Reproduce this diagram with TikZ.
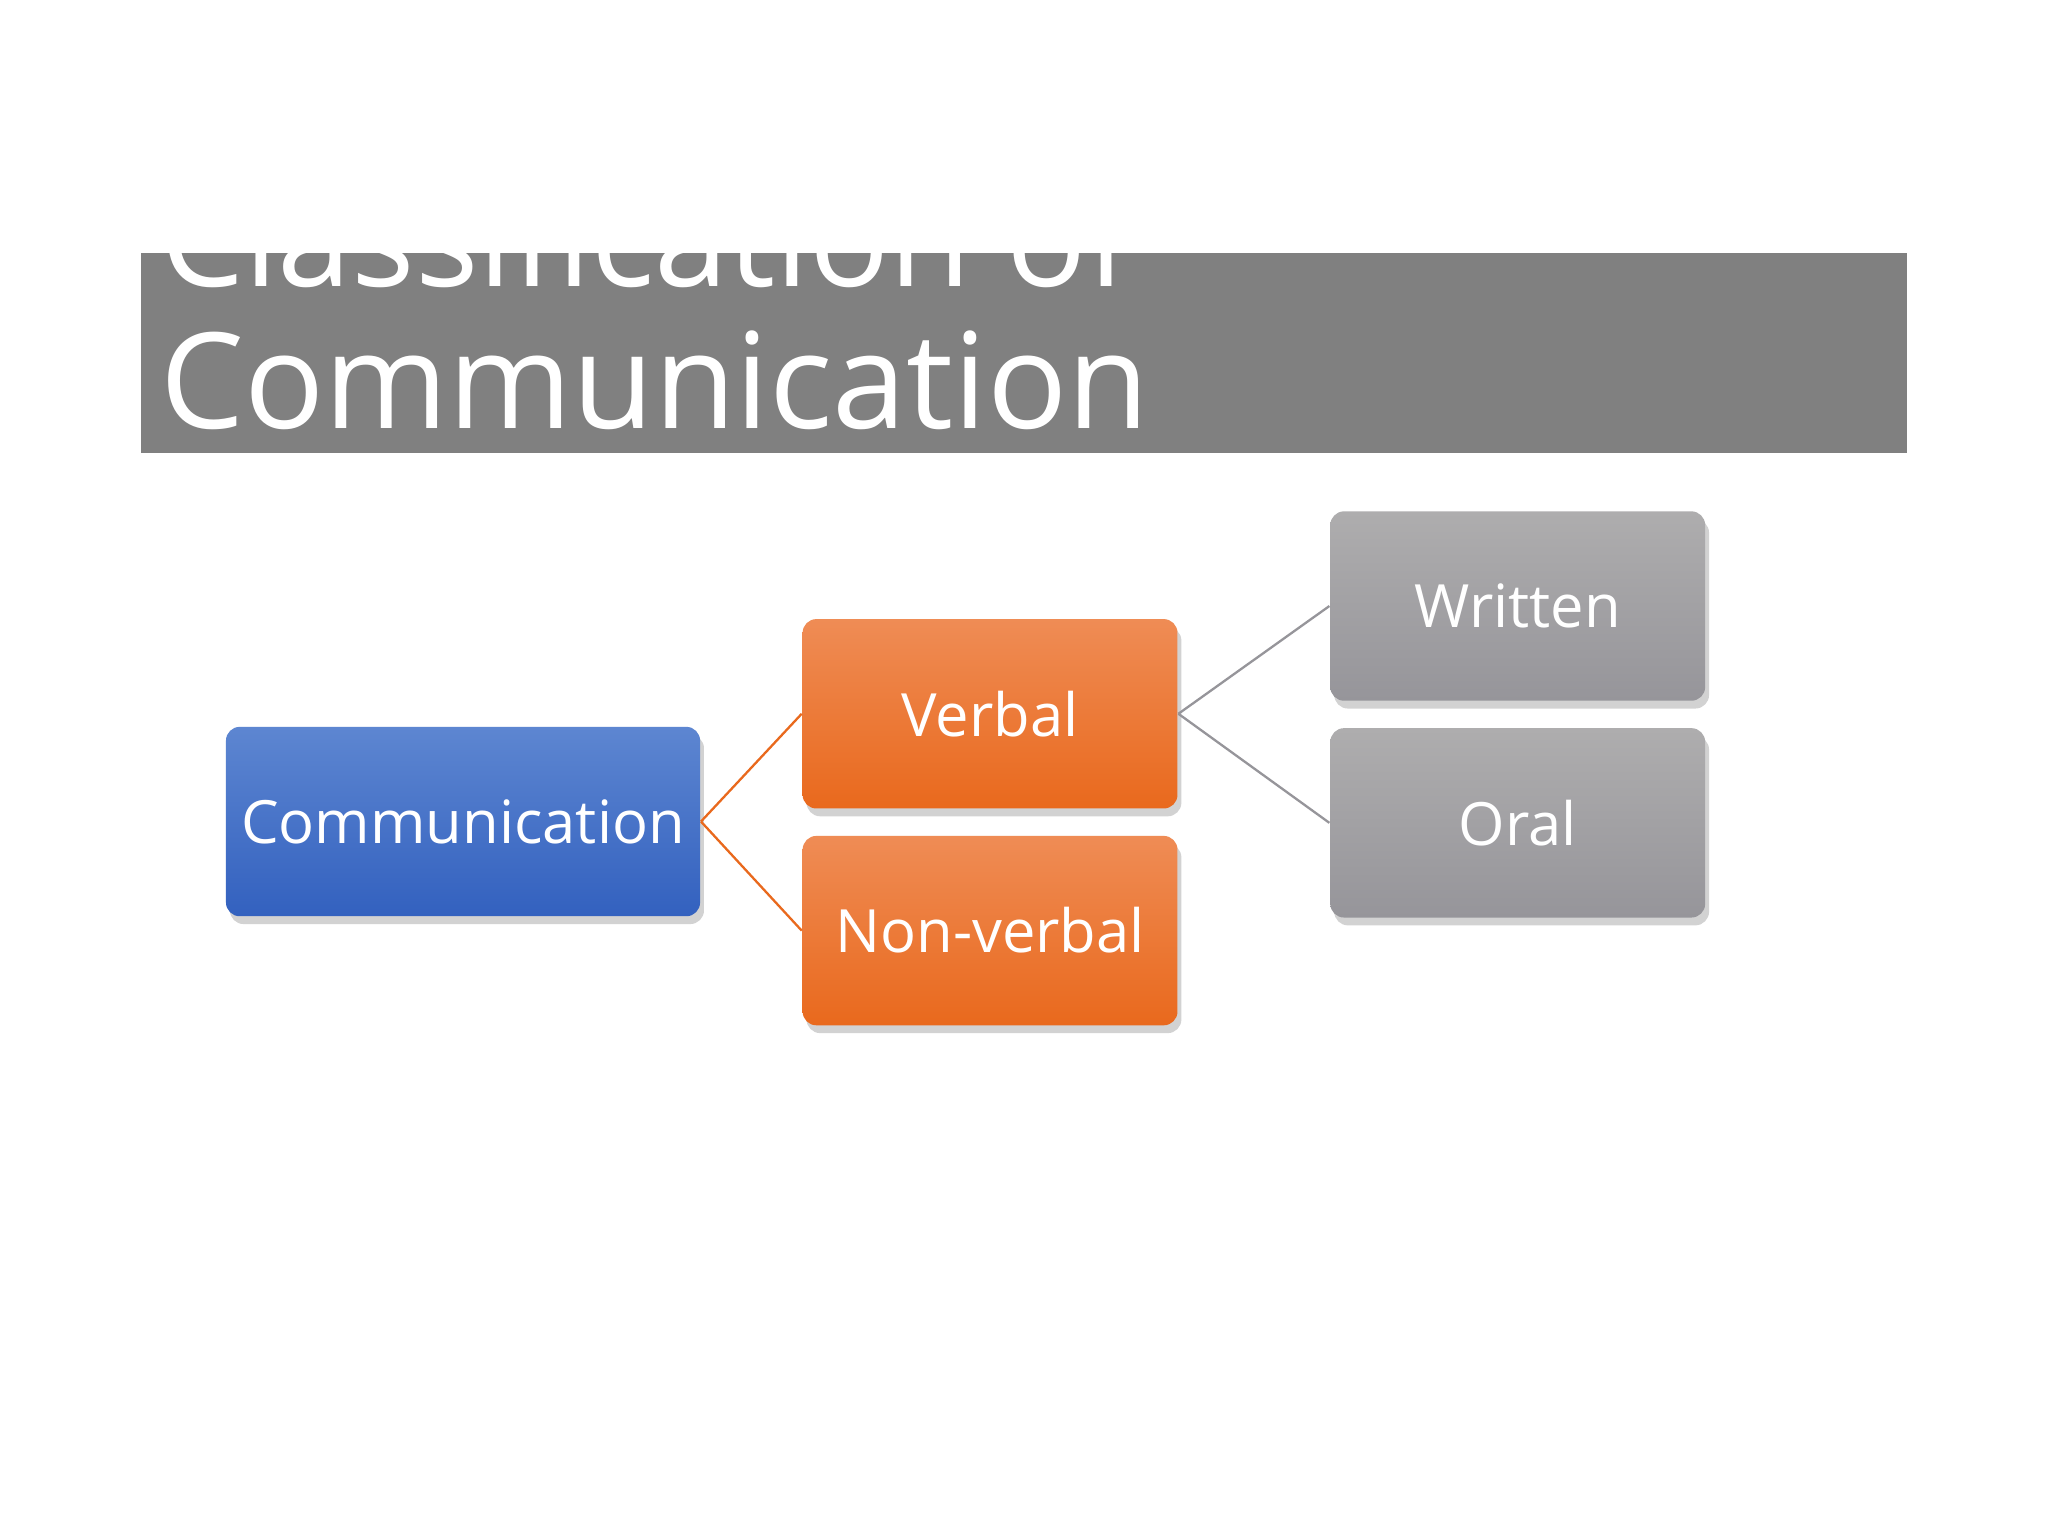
\documentclass[tikz,border=0pt]{standalone}
\usepackage{fontspec}
\setmainfont{Open Sans}
\usetikzlibrary{shadows}
\tikzset{
 box/.style={rounded corners=3pt, minimum width=2.87cm, minimum height=1.45cm, text=white, font=\fontsize{13pt}{15pt}\selectfont, drop shadow={shadow xshift=0.3mm, shadow yshift=-0.6mm, opacity=0.35}},
 bluebox/.style={box, top color=blue1, bottom color=blue2},
 orangebox/.style={box, top color=orange1, bottom color=orange2},
 graybox/.style={box, top color=gray1, bottom color=gray2},
 oline/.style={draw=orange2, line width=0.5pt},
 gline/.style={draw=gray2, line width=0.5pt}
}
\definecolor{blue1}{HTML}{5D86D1}
\definecolor{blue2}{HTML}{3361BF}
\definecolor{orange1}{HTML}{EF8C55}
\definecolor{orange2}{HTML}{E9691D}
\definecolor{gray1}{HTML}{AEADAE}
\definecolor{gray2}{HTML}{96959A}
\definecolor{titlegray}{HTML}{808080}
\begin{document}
\begin{tikzpicture}
\useasboundingbox[fill=white] (0,0) rectangle (15.68,-11.76);
\fill[titlegray] (1.08,-1.94) rectangle (14.60,-3.47);
\begin{scope}
\clip (1.08,-1.94) rectangle (14.60,-3.47);
\node[anchor=south west, inner sep=0, text=white, align=left, font=\fontsize{29pt}{31pt}\selectfont] (title) at (1.22,-3.30) {Classification of\\Communication};
\end{scope}
\node[bluebox] (comm) at (3.545,-6.29) {Communication};
\node[orangebox] (verbal) at (7.58,-5.465) {Verbal};
\node[orangebox] (nonverbal) at (7.58,-7.125) {Non-verbal};
\node[graybox] (written) at (11.62,-4.64) {Written};
\node[graybox] (oral) at (11.62,-6.30) {Oral};
\draw[oline] (comm.east) -- (verbal.west);
\draw[oline] (comm.east) -- (nonverbal.west);
\draw[gline] (verbal.east) -- (written.west);
\draw[gline] (verbal.east) -- (oral.west);
\end{tikzpicture}
\end{document}
